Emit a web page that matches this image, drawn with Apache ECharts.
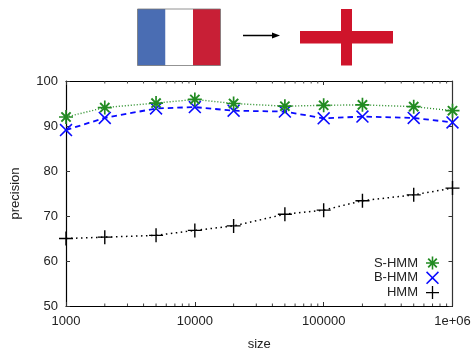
<!DOCTYPE html>
<html><head><meta charset="utf-8">
<style>html,body{margin:0;padding:0;background:#fff}#c{width:474px;height:352px}</style>
<script src="https://cdn.jsdelivr.net/npm/echarts@6/dist/echarts.min.js"></script>
</head><body><div id="c"></div>
<script>
const sizes = [1000,2000,5000,10000,20000,50000,100000,200000,500000,1000000];
const sHmm = [92.0,94.1,95.1,95.9,95.0,94.4,94.6,94.7,94.3,93.4];
const bHmm = [89.1,91.8,93.9,94.2,93.4,93.2,91.7,92.1,91.8,90.8];
const hmm  = [65.0,65.3,65.7,66.8,67.8,70.4,71.3,73.4,74.7,76.2];
const minorSizes = [2000,3000,4000,5000,6000,7000,8000,9000,20000,30000,40000,50000,60000,70000,80000,90000,200000,300000,400000,500000,600000,700000,800000,900000];
const FONT = '"Liberation Sans", Arial, sans-serif';
const ASTER = 'path://M8.8 0H11.2V6.9L15.6 2.4L17.6 4.4L13.1 8.8H20V11.2H13.1L17.6 15.6L15.6 17.6L11.2 13.1V20H8.8V13.1L4.4 17.6L2.4 15.6L6.9 11.2H0V8.8H6.9L2.4 4.4L4.4 2.4L8.8 6.9Z';
const CROSS = 'path://M1.7 0L10 8.3L18.3 0L20 1.7L11.7 10L20 18.3L18.3 20L10 11.7L1.7 20L0 18.3L8.3 10L0 1.7Z';
const PLUS = 'path://M9 0H11V9H20V11H11V20H9V11H0V9H9Z';
const pairs = a => sizes.map((s,i)=>[s,a[i]]);
const chart = echarts.init(document.getElementById('c'),null,{renderer:'canvas'});
const line = (name,data,color,type,width,sym,symSize)=>({
  name,type:'line',data:pairs(data),symbol:sym,symbolSize:symSize,smooth:false,
  lineStyle:{color,type,width},itemStyle:{color},clip:false,z:3,
  emphasis:{disabled:true},animation:false
});
chart.setOption({
  animation:false,
  backgroundColor:'#fff',
  grid:{left:66,right:21.5,top:81,bottom:46,containLabel:false,outerBoundsMode:'none'},
  legend:{
    orient:'vertical',align:'right',right:30,top:251.5,itemGap:1.8,itemWidth:13,itemHeight:14,
    textStyle:{fontFamily:FONT,fontSize:13,color:'#222',padding:[0,3,0,0]},
    data:[{name:'S-HMM',icon:ASTER},{name:'B-HMM',icon:CROSS},{name:'HMM',icon:PLUS}],
    itemStyle:{borderWidth:0},lineStyle:{width:0},selectedMode:false
  },
  xAxis:[{
    type:'log',logBase:10,min:1000,max:1000000,
    name:'size',nameLocation:'middle',nameGap:32,
    nameTextStyle:{fontFamily:FONT,fontSize:13,color:'#222'},
    axisLine:{show:true,onZero:false,lineStyle:{color:'#000',width:1.2}},
    axisTick:{show:true,inside:true,length:4,lineStyle:{color:'#333'}},
    minorTick:{show:false},
    splitLine:{show:false},
    axisLabel:{fontFamily:FONT,fontSize:13,color:'#222',margin:9,hideOverlap:false,
      formatter:v=>v>=1000000?'1e+06':String(v)}
  },{
    type:'log',logBase:10,min:1000,max:1000000,position:'top',
    axisLine:{show:true,onZero:false,lineStyle:{color:'#000',width:1.2}},
    axisTick:{show:true,inside:true,length:4,lineStyle:{color:'#333'}},
    axisLabel:{show:false},splitLine:{show:false}
  }],
  yAxis:[{
    type:'value',name:'precision',nameLocation:'middle',nameGap:44,nameRotate:90,
    min:50,max:100,interval:10,
    nameTextStyle:{fontFamily:FONT,fontSize:13,color:'#222'},
    axisLine:{show:true,onZero:false,lineStyle:{color:'#000',width:1.2}},
    axisTick:{show:true,inside:true,length:4,lineStyle:{color:'#333'}},
    splitLine:{show:false},
    axisLabel:{fontFamily:FONT,fontSize:13,color:'#222',margin:8}
  },{
    type:'value',position:'right',min:50,max:100,interval:10,
    axisLine:{show:true,onZero:false,lineStyle:{color:'#333',width:1.2}},
    axisTick:{show:true,inside:true,length:4,lineStyle:{color:'#333'}},
    splitLine:{show:false},axisLabel:{show:false}
  }],
  series:[
    line('HMM',hmm,'#000',[1.5,3.5],1.5,PLUS,14),
    line('B-HMM',bHmm,'#0a0aff',[5.5,4],1.8,CROSS,13),
    line('S-HMM',sHmm,'#228b22',[1,2],1.4,ASTER,14),
    {type:'custom',silent:true,z:2,animation:false,clip:false,
     data:minorSizes.map(s=>[s]),
     encode:{x:0},
     renderItem:(p,api)=>{
       const x=api.coord([api.value(0),50])[0];
       const yb=api.coord([1000,50])[1], yt=api.coord([1000,100])[1];
       const st={stroke:'#444',lineWidth:1};
       return {type:'group',children:[
         {type:'line',shape:{x1:x,y1:yb,x2:x,y2:yb-2.5},style:st},
         {type:'line',shape:{x1:x,y1:yt,x2:x,y2:yt+2.5},style:st}
       ]};
     }}
  ],
  graphic:[
    {type:'rect',shape:{x:137.5,y:9,width:28,height:56.5},style:{fill:'#4a6db3'}},
    {type:'rect',shape:{x:165.5,y:9,width:27.5,height:56.5},style:{fill:'#fff'}},
    {type:'rect',shape:{x:193,y:9,width:27.5,height:56.5},style:{fill:'#c81f36'}},
    {type:'rect',shape:{x:137.5,y:9,width:83,height:56.5},style:{fill:'none',stroke:'#777',lineWidth:0.8}},
    {type:'line',shape:{x1:243,y1:35.5,x2:276,y2:35.5},style:{stroke:'#000',lineWidth:1.3}},
    {type:'polygon',shape:{points:[[272,32.5],[280,35.5],[272,38.5]]},style:{fill:'#000'}},
    {type:'rect',shape:{x:300,y:31,width:93,height:12.5},style:{fill:'#cf142b'}},
    {type:'rect',shape:{x:341,y:9,width:11,height:56.5},style:{fill:'#cf142b'}}
  ]
});
</script></body></html>
